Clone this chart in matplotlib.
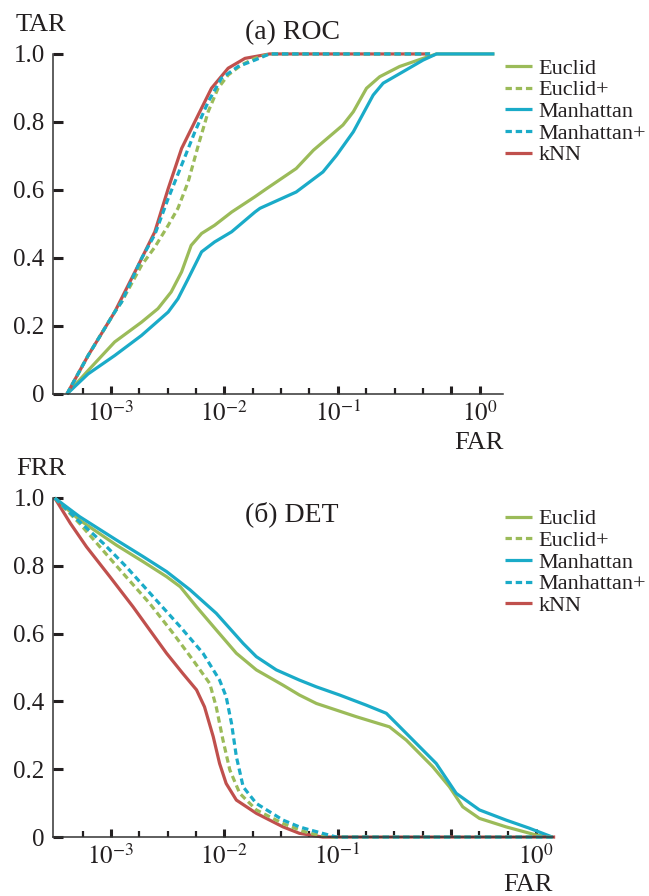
import numpy as np
import matplotlib
matplotlib.use("Agg")
import matplotlib.pyplot as plt

plt.rcParams["font.family"] = ["Liberation Serif", "DejaVu Serif"]
plt.rcParams["mathtext.fontset"] = "stix"
plt.rcParams["text.color"] = "#231f20"
plt.rcParams["xtick.color"] = "#231f20"
plt.rcParams["ytick.color"] = "#231f20"

# (a) ROC: FAR -> TAR
roc_euclid_far = [0.00041, 0.00063, 0.00108, 0.00186, 0.0026, 0.0034, 0.0042, 0.0051, 0.0063, 0.0082,
                  0.0116, 0.0186, 0.0236, 0.043, 0.061, 0.111, 0.137, 0.179, 0.234, 0.35, 0.565, 0.741, 2.4]
roc_euclid_tar = [0, 0.069, 0.153, 0.211, 0.251, 0.300, 0.359, 0.437, 0.472, 0.496,
                  0.535, 0.580, 0.604, 0.663, 0.717, 0.791, 0.830, 0.899, 0.933, 0.963, 0.987, 1.0, 1.0]

roc_euclid_p_far = [0.00041, 0.00063, 0.00108, 0.00124, 0.00186, 0.00244, 0.0032, 0.0039, 0.0048, 0.0059,
                    0.0072, 0.0088, 0.0108, 0.0142, 0.0186, 0.025, 0.65]
roc_euclid_p_tar = [0, 0.113, 0.241, 0.270, 0.378, 0.432, 0.496, 0.546, 0.624, 0.732,
                    0.830, 0.899, 0.938, 0.968, 0.987, 1.0, 1.0]

roc_manh_far = [0.00041, 0.00063, 0.00108, 0.00186, 0.0032, 0.0039, 0.0048, 0.0063, 0.0082, 0.0116,
                0.0186, 0.0206, 0.043, 0.074, 0.0975, 0.137, 0.205, 0.251, 0.377, 0.565, 0.741, 2.4]
roc_manh_tar = [0, 0.059, 0.113, 0.172, 0.241, 0.280, 0.339, 0.418, 0.447, 0.477,
                0.535, 0.546, 0.594, 0.653, 0.702, 0.771, 0.879, 0.914, 0.948, 0.982, 1.0, 1.0]

roc_manh_p_far = [0.00041, 0.00063, 0.00108, 0.00124, 0.00186, 0.00244, 0.0032, 0.0042, 0.0055, 0.0072,
                  0.0094, 0.0132, 0.0186, 0.025, 0.65]
roc_manh_p_tar = [0, 0.113, 0.241, 0.270, 0.398, 0.469, 0.575, 0.673, 0.771, 0.859,
                  0.928, 0.963, 0.982, 1.0, 1.0]

roc_knn_far = [0.00041, 0.00063, 0.00108, 0.00174, 0.00244, 0.0032, 0.0042, 0.0055, 0.0077, 0.0108,
               0.0152, 0.025, 0.65]
roc_knn_tar = [0, 0.113, 0.241, 0.378, 0.477, 0.604, 0.722, 0.801, 0.899, 0.958,
               0.987, 1.0, 1.0]

# (б) DET: FAR -> FRR
det_euclid_far = [0.00032, 0.00053, 0.00112, 0.00193, 0.0031, 0.0041, 0.0057, 0.0085, 0.0128, 0.0192,
                  0.033, 0.046, 0.065, 0.146, 0.287, 0.403, 0.692, 0.970, 1.271, 1.782, 3.062, 5.636, 7.834]
det_euclid_frr = [1.0, 0.935, 0.861, 0.812, 0.768, 0.738, 0.679, 0.611, 0.542, 0.493,
                  0.448, 0.419, 0.394, 0.355, 0.325, 0.286, 0.207, 0.148, 0.089, 0.055, 0.030, 0.006, 0]

det_euclid_p_far = [0.00032, 0.00053, 0.00080, 0.00128, 0.0022, 0.00354, 0.0053, 0.00745, 0.0085, 0.00975,
                    0.0112, 0.0137, 0.0192, 0.033, 0.046, 0.057, 0.085, 8.3]
det_euclid_p_frr = [1.0, 0.925, 0.856, 0.778, 0.689, 0.601, 0.522, 0.453, 0.384, 0.286,
                    0.198, 0.129, 0.080, 0.040, 0.021, 0.011, 0, 0]

det_manh_far = [0.00032, 0.00053, 0.00112, 0.00193, 0.0031, 0.0050, 0.0085, 0.0147, 0.0192, 0.0288,
                0.046, 0.065, 0.104, 0.179, 0.269, 0.403, 0.741, 1.112, 1.782, 3.062, 4.92, 7.834]
det_manh_frr = [1.0, 0.945, 0.876, 0.827, 0.783, 0.729, 0.660, 0.571, 0.532, 0.493,
                0.463, 0.443, 0.419, 0.389, 0.365, 0.306, 0.217, 0.129, 0.080, 0.050, 0.026, 0]

det_manh_p_far = [0.00032, 0.00053, 0.00086, 0.00137, 0.00236, 0.0041, 0.0065, 0.0091, 0.0104, 0.0116,
                  0.0128, 0.0147, 0.0192, 0.033, 0.046, 0.057, 0.0975, 8.3]
det_manh_p_frr = [1.0, 0.930, 0.866, 0.797, 0.709, 0.620, 0.542, 0.463, 0.414, 0.335,
                  0.237, 0.148, 0.099, 0.050, 0.030, 0.021, 0, 0]

det_knn_far = [0.00032, 0.00044, 0.00061, 0.00098, 0.00157, 0.0022, 0.0031, 0.0043, 0.0057, 0.0067,
               0.0080, 0.0091, 0.0104, 0.0128, 0.0192, 0.033, 0.046, 0.074, 8.3]
det_knn_frr = [1.0, 0.925, 0.856, 0.768, 0.679, 0.611, 0.542, 0.483, 0.434, 0.384,
               0.296, 0.217, 0.158, 0.109, 0.070, 0.030, 0.011, 0, 0]

names = ["Euclid", "Euclid+", "Manhattan", "Manhattan+", "kNN"]
y_ticks = [0, 0.2, 0.4, 0.6, 0.8, 1.0]
y_labels = ["0", "0.2", "0.4", "0.6", "0.8", "1.0"]

GREEN = "#9bbb59"
CYAN = "#1aabc8"
RED = "#c0504d"
LW = 2.3
DASH = (2.0, 1.2)


def draw(ax, curves):
    handles = {}
    # solids first, then kNN, dashed ones on top
    for key in ["Euclid", "Manhattan", "kNN", "Euclid+", "Manhattan+"]:
        x, y, color, dashed = curves[key]
        if dashed:
            line, = ax.plot(x, y, color=color, lw=LW, dashes=DASH, clip_on=False)
        else:
            line, = ax.plot(x, y, color=color, lw=LW, clip_on=False,
                            solid_joinstyle="round", solid_capstyle="butt")
        handles[key] = line
    return [handles[n] for n in names]


def style(ax, xmax, label_pos):
    ax.set_xscale("log")
    ax.set_xlim(10 ** -3.51, xmax)
    ax.set_ylim(0, 1.0)
    ax.spines["top"].set_visible(False)
    ax.spines["right"].set_visible(False)
    for s in ["left", "bottom"]:
        ax.spines[s].set_linewidth(1.1)
        ax.spines[s].set_color("#333333")
    ax.set_yticks(y_ticks)
    ax.set_yticklabels(y_labels, fontsize=18)
    major = [1e-3, 1e-2, 1e-1, 1e0, label_pos]
    major_lbl = ["$10^{-3}$", "$10^{-2}$", "$10^{-1}$", "", "$10^{0}$"]
    ax.xaxis.set_major_locator(matplotlib.ticker.FixedLocator(major))
    ax.xaxis.set_major_formatter(matplotlib.ticker.FixedFormatter(major_lbl))
    minor = [10 ** k for k in np.arange(-3.25, np.log10(xmax), 0.25)
             if abs(k - round(k)) > 0.01 and abs(10 ** k - label_pos) > 1e-6]
    ax.xaxis.set_minor_locator(matplotlib.ticker.FixedLocator(minor))
    ax.xaxis.set_minor_formatter(matplotlib.ticker.NullFormatter())
    ax.tick_params(axis="x", which="major", direction="in", length=6, width=2.2,
                   labelsize=18, pad=5)
    ax.tick_params(axis="x", which="minor", direction="in", length=4.5, width=1.6)
    ax.tick_params(axis="y", which="major", direction="in", length=7, width=2.2, pad=6)
    ax.tick_params(axis="y", which="minor", left=False)


fig = plt.figure(figsize=(6.49, 8.96), dpi=100)

ax1 = fig.add_axes([0.0817, 0.5603, 0.693, 0.3795])
h1 = draw(ax1, {
    "Euclid": (roc_euclid_far, roc_euclid_tar, GREEN, False),
    "Euclid+": (roc_euclid_p_far, roc_euclid_p_tar, GREEN, True),
    "Manhattan": (roc_manh_far, roc_manh_tar, CYAN, False),
    "Manhattan+": (roc_manh_p_far, roc_manh_p_tar, CYAN, True),
    "kNN": (roc_knn_far, roc_knn_tar, RED, False),
})
style(ax1, 10 ** 0.454, 10 ** 0.25)

ax2 = fig.add_axes([0.0817, 0.0658, 0.7704, 0.3784])
h2 = draw(ax2, {
    "Euclid": (det_euclid_far, det_euclid_frr, GREEN, False),
    "Euclid+": (det_euclid_p_far, det_euclid_p_frr, GREEN, True),
    "Manhattan": (det_manh_far, det_manh_frr, CYAN, False),
    "Manhattan+": (det_manh_p_far, det_manh_p_frr, CYAN, True),
    "kNN": (det_knn_far, det_knn_frr, RED, False),
})
style(ax2, 10 ** 0.9, 10 ** 0.75)

leg_kw = dict(loc="upper left", frameon=False, fontsize=16, handlelength=1.22,
              handletextpad=0.28, labelspacing=0.05, borderpad=0, borderaxespad=0)
fig.legend(h1, names, bbox_to_anchor=(0.778, 0.935), **leg_kw)
fig.legend(h2, names, bbox_to_anchor=(0.778, 0.432), **leg_kw)

fig.text(0.063, 0.972, "TAR", fontsize=19, ha="center", va="center")
fig.text(0.450, 0.964, "(a) ROC", fontsize=20, ha="center", va="center")
fig.text(0.738, 0.5056, "FAR", fontsize=19, ha="center", va="center")
fig.text(0.063, 0.4766, "FRR", fontsize=19, ha="center", va="center")
fig.text(0.449, 0.4263, "(б) DET", fontsize=20, ha="center", va="center")
fig.text(0.814, 0.0123, "FAR", fontsize=19, ha="center", va="center")

fig.savefig("out.png", dpi=100)
